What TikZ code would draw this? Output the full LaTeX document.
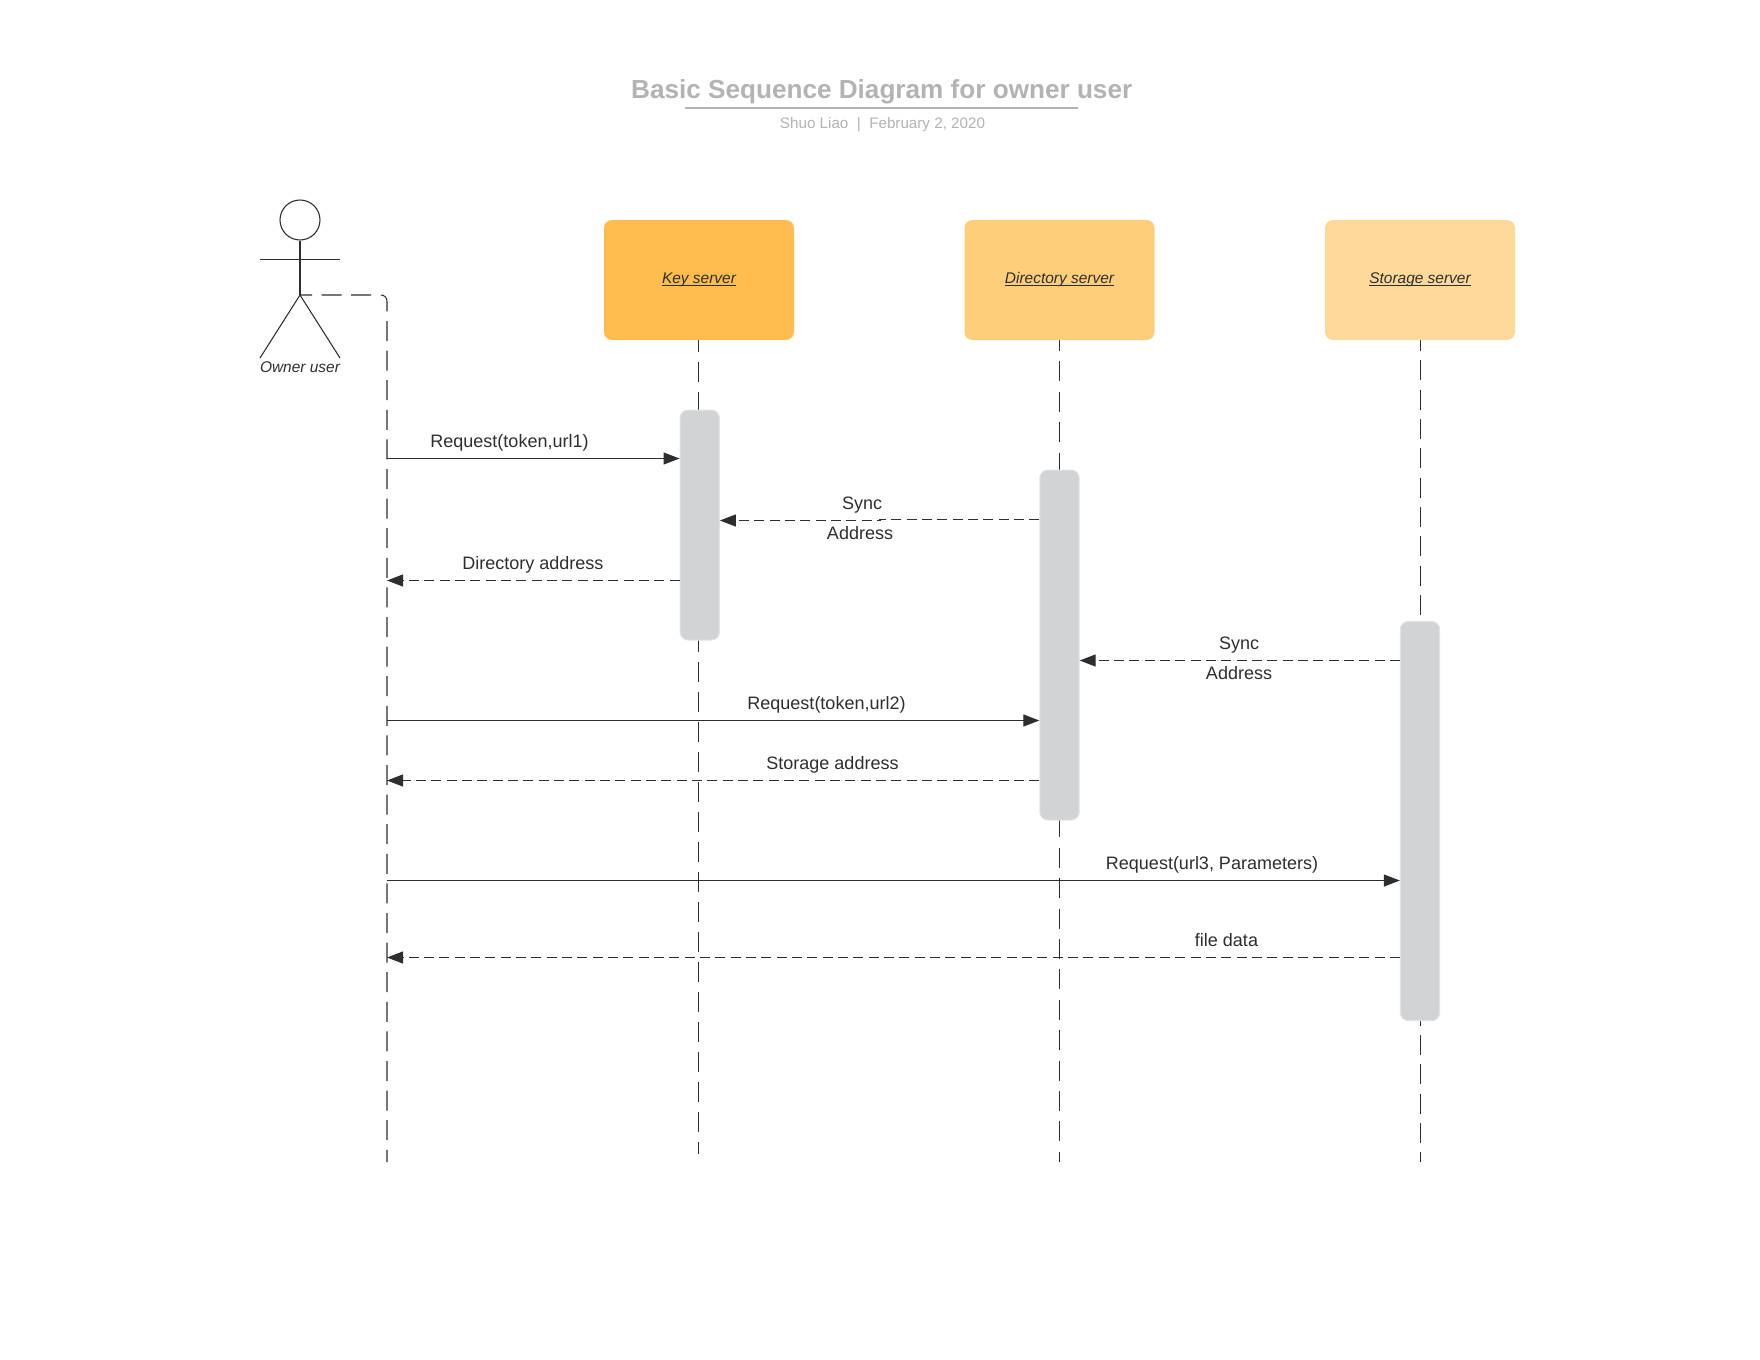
\documentclass[tikz,border=0pt]{standalone}
\usepackage{fontspec}
\setmainfont{Liberation Sans}
\usetikzlibrary{arrows.meta,backgrounds}
\definecolor{ink}{HTML}{2E2E2E}
\definecolor{titlegrey}{HTML}{B3B3B3}
\definecolor{actfill}{HTML}{D1D3D4}
\definecolor{actedge}{HTML}{E2E3E4}
\definecolor{srvA}{HTML}{FFBC4F}
\definecolor{srvB}{HTML}{FFCE7A}
\definecolor{srvC}{HTML}{FFD99A}
\newcommand{\ulined}[1]{\setbox0\hbox{#1}\rlap{\rule[-1.4pt]{\wd0}{0.6pt}}\box0}
\tikzset{
  x=0.75pt,y=-0.75pt,
  inkline/.style={draw=ink,line width=0.8pt},
  msgsolid/.style={inkline,-{Triangle[length=12pt,width=9pt]}},
  msgdash/.style={inkline,dash pattern=on 7.5pt off 4pt,-{Triangle[length=12pt,width=9pt]}},
  server/.style={rounded corners=6pt,minimum width=142.5pt,minimum height=90pt,inner sep=0pt},
  serverlabel/.style={font=\fontsize{11.6}{13}\selectfont\itshape,text=ink,inner sep=0pt},
  activation/.style={rounded corners=6pt,fill=actfill,draw=actedge,line width=0.75pt,minimum width=29.5pt,inner sep=0pt},
  msglabel/.style={font=\fontsize{13.5}{15}\selectfont,text=ink,inner sep=0pt}
}
\begin{document}
\begin{tikzpicture}
\useasboundingbox (0,0) rectangle (1760,1360);
% title
\node[font=\fontsize{19.6}{24}\selectfont\bfseries,text=titlegrey,inner sep=0pt] (title) at (881.7,91.5) {Basic Sequence Diagram for owner user};
\coordinate (ulA) at (685,108);
\coordinate (ulB) at (1078,108);
\draw[titlegrey,line width=1.4pt] (ulA) -- (ulB);
\node[font=\fontsize{11.4}{14}\selectfont,text=titlegrey,inner sep=0pt] (sub) at (882.5,125) {Shuo Liao\ \ |\ \ February 2, 2020};
% actor
\node[circle,draw=ink,line width=0.8pt,minimum size=30pt,inner sep=0pt] (head) at (300,220) {};
\coordinate (hip) at (300,295);
\coordinate (armL) at (260,259.5);
\coordinate (armR) at (340,259.5);
\coordinate (footL) at (260,358);
\coordinate (footR) at (340,358);
\draw[inkline] (head.south) -- (hip);
\draw[inkline] (armL) -- (armR);
\draw[inkline] (footL) -- (hip) -- (footR);
\node[serverlabel] (owner) at (300,367) {Owner user};
% servers
\node[server,fill=srvA] (key) at (699,280) {};
\node[server,fill=srvB] (dir) at (1059.5,280) {};
\node[server,fill=srvC] (sto) at (1420,280) {};
\node[serverlabel,anchor=base] (keyl) at (699,283.5) {\ulined{Key server}};
\node[serverlabel,anchor=base] (dirl) at (1059.5,283.5) {\ulined{Directory server}};
\node[serverlabel,anchor=base] (stol) at (1420,283.5) {\ulined{Storage server}};
% activations
\node[activation,minimum height=172.5pt] (a1) at (699.7,525) {};
\node[activation,minimum height=262.5pt] (a2) at (1059.5,645) {};
\node[activation,minimum height=299.5pt] (a3) at (1420,821) {};
% lifeline ends
\coordinate (ownerEnd) at (387,1162);
\coordinate (keyEnd) at (698.5,1154);
\coordinate (dirEnd) at (1059.5,1162);
\coordinate (stoEnd) at (1420.5,1162);
\coordinate (corner) at (387,295);
\begin{scope}[on background layer]
\draw[inkline,dash pattern=on 15pt off 7.2pt,dash phase=6pt,rounded corners=4.5pt] (hip) -- (corner) -- (ownerEnd);
\draw[inkline,dash pattern=on 15pt off 7.5pt,dash phase=6.2pt] (key.south -| keyEnd) -- (keyEnd);
\draw[inkline,dash pattern=on 15pt off 7.8pt,dash phase=7pt] (dir.south -| dirEnd) -- (dirEnd);
\draw[inkline,dash pattern=on 15pt off 7pt,dash phase=7pt] (sto.south -| stoEnd) -- (stoEnd);
\end{scope}
% messages
\coordinate (m1) at (387,458.5);
\draw[msgsolid] (m1) -- (m1 -| a1.west);
\node[msglabel] (l1) at (509.5,443) {Request(token,url1)};
\coordinate (m2) at (a2.west |- 0,519.5);
\coordinate (m2a) at (880,519.5);
\coordinate (m2b) at (880,520.5);
\draw[msgdash] (m2) -- (m2a) -- (m2b) -- (m2b -| a1.east);
\node[msglabel] (l2a) at (862,505) {Sync};
\node[msglabel] (l2b) at (860,533) {Address};
\coordinate (m3) at (a1.west |- 0,580.5);
\coordinate (o3) at (387,580.5);
\draw[msgdash] (m3) -- (o3);
\node[msglabel] (l3) at (533,565) {Directory address};
\coordinate (m4) at (a3.west |- 0,660.5);
\draw[msgdash] (m4) -- (m4 -| a2.east);
\node[msglabel] (l4a) at (1239,645) {Sync};
\node[msglabel] (l4b) at (1239,673) {Address};
\coordinate (m5) at (387,720.5);
\draw[msgsolid] (m5) -- (m5 -| a2.west);
\node[msglabel] (l5) at (826.5,705) {Request(token,url2)};
\coordinate (m6) at (a2.west |- 0,780.5);
\coordinate (o6) at (387,780.5);
\draw[msgdash] (m6) -- (o6);
\node[msglabel] (l6) at (832.5,765) {Storage address};
\coordinate (m7) at (387,880.5);
\draw[msgsolid] (m7) -- (m7 -| a3.west);
\node[msglabel] (l7) at (1212,865) {Request(url3, Parameters)};
\coordinate (m8) at (a3.west |- 0,957.5);
\coordinate (o8) at (387,957.5);
\draw[msgdash] (m8) -- (o8);
\node[msglabel] (l8) at (1226.5,940) {file data};
\end{tikzpicture}
\end{document}
